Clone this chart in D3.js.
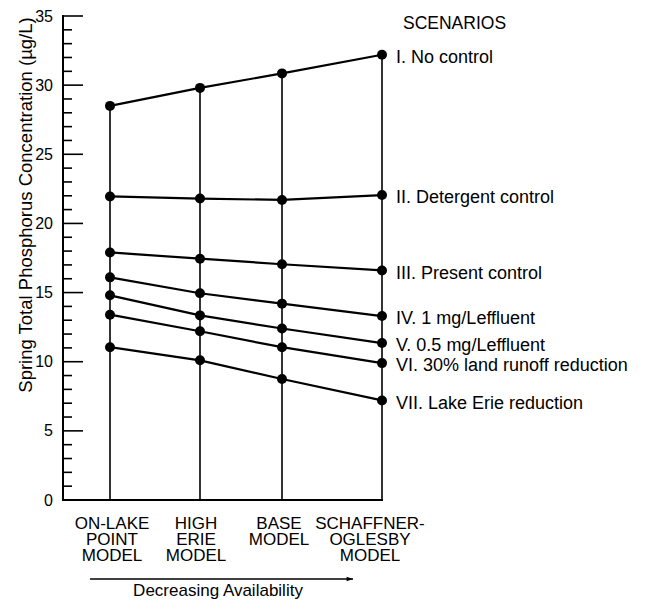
<!DOCTYPE html>
<html>
<head>
<meta charset="utf-8">
<script src="https://cdn.jsdelivr.net/npm/d3@7"></script>
<style>
  html, body { margin: 0; padding: 0; background: #fff; }
  svg { display: block; font-family: "Liberation Sans", Arial, Helvetica, sans-serif; }
</style>
</head>
<body>
<svg id="chart" width="647" height="600"></svg>
<script>
// Phosphorus models, ordered by decreasing availability
const models = ["ON-LAKE POINT MODEL", "HIGH ERIE MODEL", "BASE MODEL", "SCHAFFNER- OGLESBY MODEL"];
const modelLines = [["ON-LAKE", "POINT", "MODEL"], ["HIGH", "ERIE", "MODEL"], ["BASE", "MODEL"], ["SCHAFFNER-", "OGLESBY", "MODEL"]];

// Loading scenarios
const scenarios = [
  "I. No control",
  "II. Detergent control",
  "III. Present control",
  "IV. 1 mg/Leffluent",
  "V. 0.5 mg/Leffluent",
  "VI. 30% land runoff reduction",
  "VII. Lake Erie reduction"
];

// Spring total phosphorus (µg/L), one array per scenario, one value per model
const noControl        = [28.5, 29.8, 30.85, 32.2];
const detergentControl = [21.95, 21.8, 21.7, 22.05];
const presentControl   = [17.9, 17.45, 17.05, 16.6];
const oneMgEffluent    = [16.1, 14.95, 14.2, 13.3];
const halfMgEffluent   = [14.8, 13.35, 12.4, 11.35];
const landRunoff       = [13.4, 12.2, 11.05, 9.9];
const lakeErie         = [11.05, 10.1, 8.75, 7.2];

const series = [noControl, detergentControl, presentControl, oneMgEffluent, halfMgEffluent, landRunoff, lakeErie];

const yTicks = [0, 5, 10, 15, 20, 25, 30, 35];

const svg = d3.select("#chart");

const axisX = 63, axisBottom = 500, axisTop = 16;
const y = d3.scaleLinear().domain([0, 35]).range([axisBottom, axisTop]);
// columns are not evenly spaced along the availability axis
const x = d3.scaleOrdinal().domain(models).range([110, 200, 282, 382]);

// left axis with inward ticks: long at every 5, short at every unit
const axis = svg.append("g");
axis.append("line")
  .attr("x1", axisX).attr("x2", axisX)
  .attr("y1", y(35) - 1).attr("y2", y(0) + 1)
  .attr("stroke", "#000").attr("stroke-width", 2);
axis.selectAll("line.tick")
  .data(d3.range(0, 36))
  .join("line")
  .attr("class", "tick")
  .attr("x1", axisX)
  .attr("x2", d => axisX + (d % 5 === 0 ? 20 : 9))
  .attr("y1", d => y(d)).attr("y2", d => y(d))
  .attr("stroke", "#000").attr("stroke-width", 1.6);
axis.selectAll("text")
  .data(yTicks)
  .join("text")
  .attr("x", axisX - 10)
  .attr("y", d => y(d))
  .attr("dy", "0.35em")
  .attr("text-anchor", "end")
  .attr("font-size", 16)
  .text(d => d);

// bottom axis runs from the left axis to the last model column
svg.append("line")
  .attr("x1", axisX).attr("x2", x(models[models.length - 1]) + 1)
  .attr("y1", y(0)).attr("y2", y(0))
  .attr("stroke", "#000").attr("stroke-width", 2);

// vertical drop line at each model, from its highest scenario to zero
svg.append("g").selectAll("line")
  .data(models)
  .join("line")
  .attr("x1", d => x(d)).attr("x2", d => x(d))
  .attr("y1", (d, i) => y(d3.max(series, s => s[i])))
  .attr("y2", y(0))
  .attr("stroke", "#000").attr("stroke-width", 1.6);

// scenario lines
const line = d3.line()
  .x((d, i) => x(models[i]))
  .y(d => y(d));

svg.append("g").selectAll("path")
  .data(series)
  .join("path")
  .attr("d", line)
  .attr("fill", "none")
  .attr("stroke", "#000")
  .attr("stroke-width", 2.2);

// points
svg.append("g").selectAll("g")
  .data(series)
  .join("g")
  .selectAll("circle")
  .data(d => d)
  .join("circle")
  .attr("cx", (d, i) => x(models[i]))
  .attr("cy", d => y(d))
  .attr("r", 5)
  .attr("fill", "#000");

// scenario labels beside the last column
const lastX = x(models[models.length - 1]);
svg.append("text")
  .attr("x", lastX + 21).attr("y", 23)
  .attr("dy", "0.35em")
  .attr("font-size", 17.5)
  .text("SCENARIOS");

svg.append("g").selectAll("text")
  .data(series)
  .join("text")
  .attr("x", lastX + 14)
  .attr("y", d => y(d[d.length - 1]) + 2)
  .attr("dy", "0.35em")
  .attr("font-size", 18)
  .text((d, i) => scenarios[i]);

// model labels under each column, tightly stacked
const labelShift = [2, -4, -3, -12];
const modelLabels = svg.append("g").selectAll("text")
  .data(models)
  .join("text")
  .attr("text-anchor", "middle")
  .attr("font-size", 17)
  .attr("transform", (d, i) => `translate(${x(d) + labelShift[i]},${y(0) + 29})`);
modelLabels.selectAll("tspan")
  .data((d, i) => modelLines[i])
  .join("tspan")
  .attr("x", 0)
  .attr("dy", (d, j) => j === 0 ? 0 : 16)
  .text(d => d);

// availability arrow
const defs = svg.append("defs");
defs.append("marker")
  .attr("id", "arrowhead")
  .attr("viewBox", "0 0 10 10")
  .attr("refX", 10).attr("refY", 5)
  .attr("markerWidth", 7).attr("markerHeight", 4)
  .attr("markerUnits", "strokeWidth")
  .attr("orient", "auto")
  .append("path")
  .attr("d", "M0,1.5 L10,5 L0,8.5 Z")
  .attr("fill", "#000");

svg.append("line")
  .attr("x1", 90).attr("x2", 353)
  .attr("y1", 579).attr("y2", 579)
  .attr("stroke", "#000").attr("stroke-width", 1.6)
  .attr("marker-end", "url(#arrowhead)");

svg.append("text")
  .attr("x", 218).attr("y", 596)
  .attr("text-anchor", "middle")
  .attr("font-size", 17)
  .text("Decreasing Availability");

// y-axis title
svg.append("text")
  .attr("transform", `translate(32,205) rotate(-90)`)
  .attr("text-anchor", "middle")
  .attr("font-size", 18.5)
  .text("Spring Total Phosphorus Concentration (µg/L)");
</script>
</body>
</html>
